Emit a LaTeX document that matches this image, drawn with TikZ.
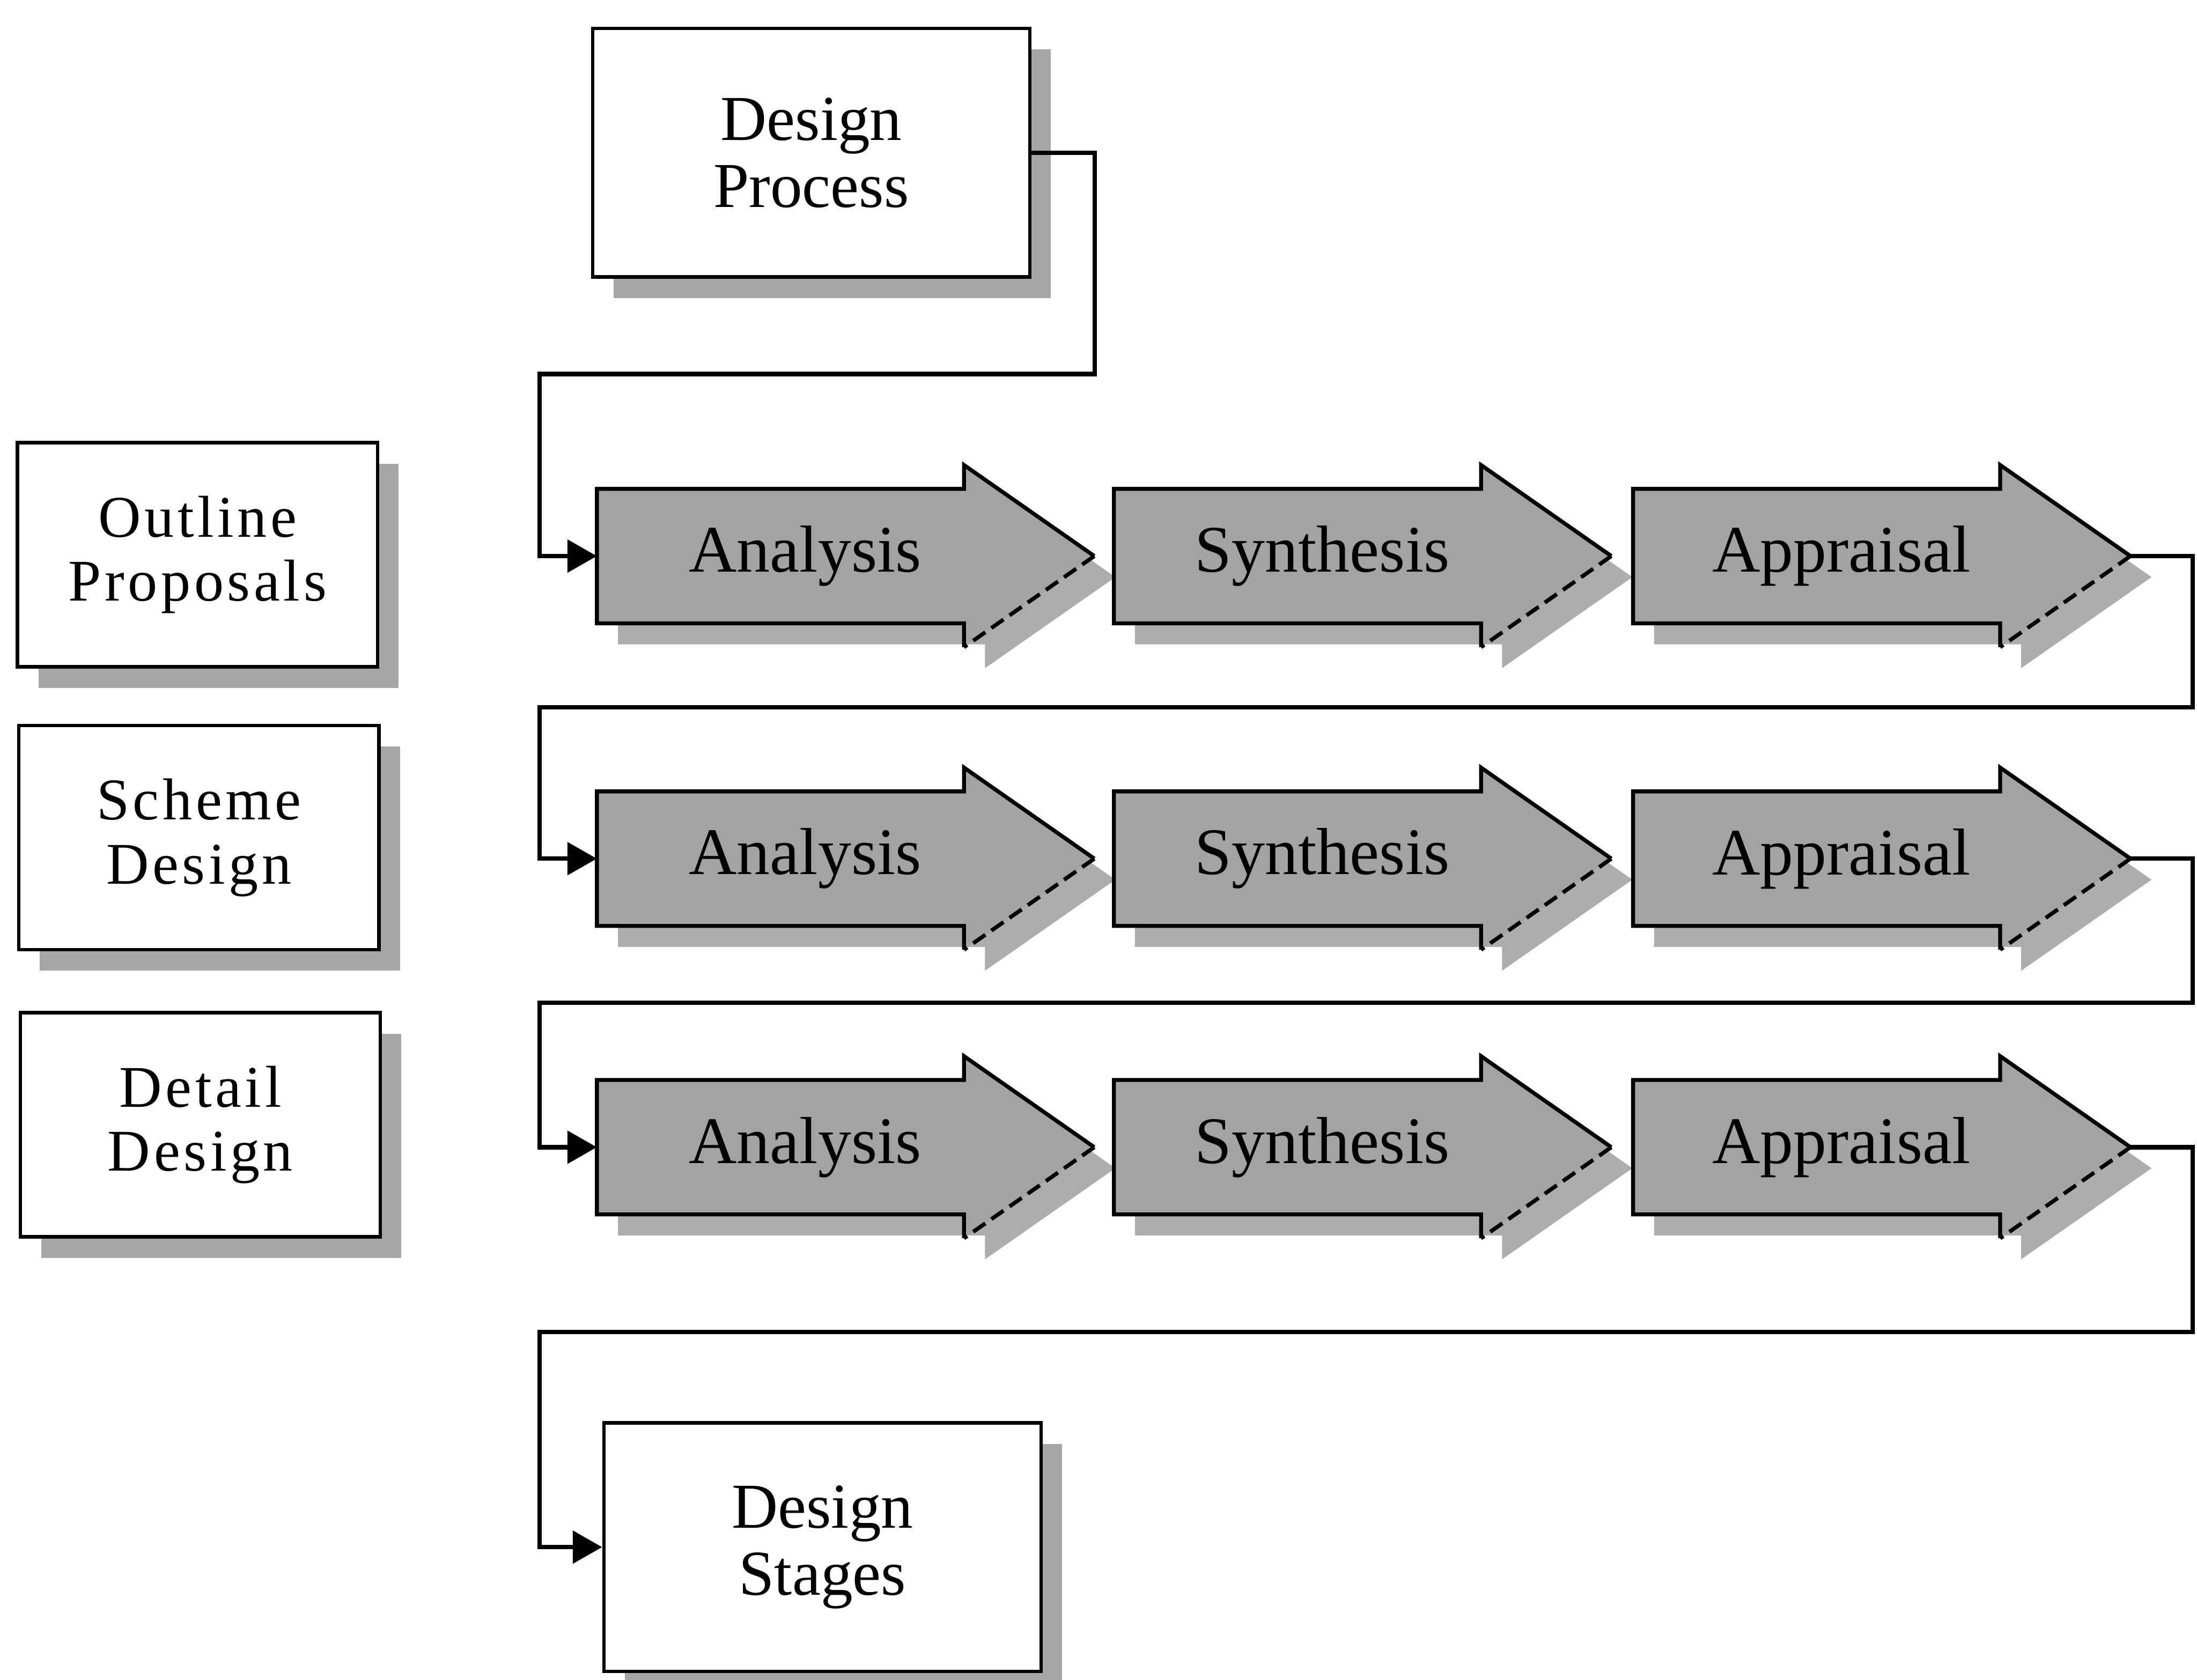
\documentclass[tikz,border=0pt]{standalone}
\usepackage{fontspec}
\setmainfont{Liberation Serif}
\newfontfamily\widefont[LetterSpace=6]{Liberation Serif}
\usetikzlibrary{shadows,arrows.meta}
\tikzstyle{box}=[draw=black,line width=0.7pt,fill=white,align=center,
  minimum width=3.12cm,minimum height=1.775cm,
  font=\fontsize{13}{13.6}\selectfont,
  drop shadow={shadow xshift=0.15cm,shadow yshift=-0.15cm,fill=black!35,opacity=1}]
\tikzstyle{phase}=[box,minimum width=2.57cm,minimum height=1.6cm,
  font=\widefont\fontsize{12}{13}\selectfont]
\tikzstyle{stagetext}=[anchor=west,minimum width=2.96cm,minimum height=0.96cm,
  inner sep=0pt,font=\fontsize{13.5}{14}\selectfont]
\tikzstyle{stagefill}=[fill=black!36]
\tikzstyle{stageshadow}=[fill=black!32]
\tikzstyle{outline}=[draw=black,line width=0.8pt,line join=miter]
\tikzstyle{flow}=[draw=black,line width=0.9pt,-{Triangle[length=2.1mm,width=2.3mm]}]

% one stage arrow: name, tail point, label
\newcommand{\stagepath}{(0,-0.48) -- (2.62,-0.48) -- (2.62,-0.65) -- (3.55,0)
  -- (2.62,0.65) -- (2.62,0.48) -- (0,0.48) -- cycle}
\newcommand{\stagearrow}[3]{%
  \begin{scope}[shift={(#2)}]
    \fill[stageshadow,shift={(0.15,-0.15)}] \stagepath;
    \fill[stagefill] \stagepath;
    \draw[outline] (2.62,-0.65) -- (2.62,-0.48) -- (0,-0.48) -- (0,0.48)
      -- (2.62,0.48) -- (2.62,0.65) -- (3.55,0);
    \draw[outline,dash pattern=on 3pt off 1.5pt] (3.55,0) -- (2.62,-0.65);
    \node[stagetext] (#1) at (0,0) {#3};
    \coordinate (#1-tip) at (3.55,0);
  \end{scope}}

\begin{document}
\begin{tikzpicture}
\path[use as bounding box,fill=white] (0,0) rectangle (15.68,-11.99);
\node[box] (dp) at (5.79,-1.09) {Design\\Process};
\node[phase] (op) at (1.41,-3.96) {Outline\\Proposals};
\node[phase] (sd) at (1.42,-5.98) {Scheme\\Design};
\node[phase] (dd) at (1.43,-8.03) {Detail\\Design};
\node[box] (ds) at (5.87,-11.045) {Design\\Stages};
% three rows of stages
\foreach \row/\y in {1/-3.97,2/-6.13,3/-8.19}{
  \stagearrow{an\row}{4.26,\y}{Analysis}
  \stagearrow{sy\row}{7.95,\y}{Synthesis}
  \stagearrow{ap\row}{11.655,\y}{Appraisal}
}
% flow lines
\draw[flow] (dp.east) -- ++(0.45,0) |- (3.85,-2.67) |- (an1.west);
\draw[flow] (ap1-tip) -- ++(0.445,0) |- (3.85,-5.05) |- (an2.west);
\draw[flow] (ap2-tip) -- ++(0.445,0) |- (3.85,-7.16) |- (an3.west);
\draw[flow] (ap3-tip) -- ++(0.445,0) |- (3.85,-9.51) |- (ds.west);
\end{tikzpicture}
\end{document}
